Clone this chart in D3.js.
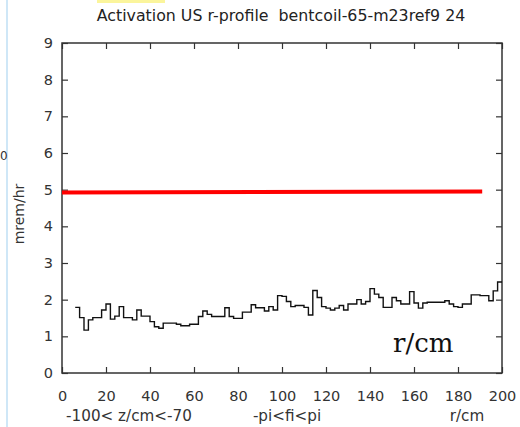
<!DOCTYPE html>
<html>
<head>
<meta charset="utf-8">
<script src="https://cdn.jsdelivr.net/npm/d3@7"></script>
<style>
  html, body { margin: 0; padding: 0; background: #fff; }
  svg { display: block; }
  text { white-space: pre; }
</style>
</head>
<body>
<svg id="chart" width="520" height="427"></svg>
<script>
// ---- data ----
const titleText = "Activation US r-profile  bentcoil-65-m23ref9 24";
const yLabel = "mrem/hr";
const xTicks = [0, 20, 40, 60, 80, 100, 120, 140, 160, 180, 200];
const yTicks = [0, 1, 2, 3, 4, 5, 6, 7, 8, 9];
const binStart = [6, 8, 10, 12, 14, 16, 18, 20, 22, 24, 26, 28, 30, 32, 34, 36, 38, 40, 42, 44, 46, 48,
  50, 52, 54, 56, 58, 60, 62, 64, 66, 68, 70, 72, 74, 76, 78, 80, 82, 84, 86, 88, 90, 92, 94, 96, 98,
  100, 102, 104, 106, 108, 110, 112, 114, 116, 118, 120, 122, 124, 126, 128, 130, 132, 134, 136, 138, 140, 142, 144, 146, 148,
  150, 152, 154, 156, 158, 160, 162, 164, 166, 168, 170, 172, 174, 176, 178, 180, 182, 184, 186, 188, 190, 192, 194, 196, 198];
const binEnd = 200;
const doseValues = [1.79, 1.51, 1.17, 1.45, 1.51, 1.51, 1.72, 1.88, 1.47, 1.55, 1.81, 1.51, 1.51, 1.45, 1.72, 1.55, 1.55, 1.40, 1.26, 1.22, 1.36, 1.36,
  1.36, 1.33, 1.29, 1.29, 1.33, 1.33, 1.54, 1.69, 1.60, 1.54, 1.54, 1.54, 1.78, 1.54, 1.49, 1.49, 1.66, 1.66, 1.86, 1.78, 1.78, 1.69, 1.81, 1.72, 2.11,
  2.09, 1.95, 1.81, 1.84, 1.84, 1.79, 1.58, 2.25, 2.06, 1.81, 1.77, 1.72, 1.77, 1.84, 1.72, 1.88, 1.88, 2.00, 1.88, 1.95, 2.30, 2.15, 2.06, 1.79, 1.79,
  2.06, 1.97, 1.88, 1.88, 2.22, 1.91, 1.77, 1.91, 1.93, 1.93, 1.93, 1.93, 1.97, 1.88, 1.81, 1.79, 1.88, 1.88, 2.13, 2.13, 2.11, 2.11, 1.97, 2.24, 2.48];
const limitX = [0, 191];
const limitY = [4.92, 4.95];
const bottomLabels = ["-100< z/cm<-70", "-pi<fi<pi", "r/cm"];
const insideLabel = "r/cm";

// ---- drawing ----
const svg = d3.select("#chart");
svg.append("rect").attr("width", 520).attr("height", 427).attr("fill", "#fff");

// decorations from the screenshot
svg.append("rect").attr("x", 97).attr("y", 0).attr("width", 68).attr("height", 3).attr("fill", "#fbf59c");
svg.append("line").attr("x1", 7).attr("x2", 7).attr("y1", 0).attr("y2", 427)
  .attr("stroke", "#cfe7f7").attr("stroke-width", 2);
svg.append("text").attr("x", 0).attr("y", 160).attr("text-anchor", "start")
  .attr("font-family", "DejaVu Sans").attr("font-size", 12).attr("fill", "#333").text("0");

const L = 62, R = 502, T = 43, B = 373;
const x = d3.scaleLinear().domain([0, 200]).range([L, R]);
const y = d3.scaleLinear().domain([0, 9]).range([B, T]);

const font = "DejaVu Sans";
const axisColor = "#333";

function styleAxis(g, showText) {
  g.select(".domain").remove();
  g.selectAll(".tick line").attr("stroke", axisColor).attr("stroke-width", 1.2);
  g.selectAll(".tick text").attr("font-family", font).attr("font-size", 14.5).attr("fill", "#333");
  if (!showText) g.selectAll(".tick text").remove();
}

svg.append("g").attr("transform", `translate(${L},0)`)
  .call(d3.axisLeft(y).tickValues(yTicks).tickSize(-6).tickPadding(9).tickFormat(d3.format("d")))
  .call(g => styleAxis(g, true));
svg.append("g").attr("transform", `translate(${R},0)`)
  .call(d3.axisRight(y).tickValues(yTicks).tickSize(-6))
  .call(g => styleAxis(g, false));
svg.append("g").attr("transform", `translate(0,${B})`)
  .call(d3.axisBottom(x).tickValues(xTicks).tickSize(-6).tickPadding(18).tickFormat(d3.format("d")))
  .call(g => styleAxis(g, true));
svg.append("g").attr("transform", `translate(0,${T})`)
  .call(d3.axisTop(x).tickValues(xTicks).tickSize(-6))
  .call(g => styleAxis(g, false));

// frame
svg.append("rect").attr("x", L).attr("y", T).attr("width", R - L).attr("height", B - T)
  .attr("fill", "none").attr("stroke", axisColor).attr("stroke-width", 1.5);

// step histogram
const pts = binStart.map((s, i) => [s, doseValues[i]]);
pts.push([binEnd, doseValues[doseValues.length - 1]]);
svg.append("path").datum(pts)
  .attr("d", d3.line().x(d => x(d[0])).y(d => y(d[1])).curve(d3.curveStepAfter))
  .attr("fill", "none").attr("stroke", "#111").attr("stroke-width", 1.4);

// red limit line
svg.append("path").datum(limitX.map((v, i) => [v, limitY[i]]))
  .attr("d", d3.line().x(d => x(d[0])).y(d => y(d[1])))
  .attr("stroke", "#ff0000").attr("stroke-width", 4).attr("fill", "none");

// title
svg.append("text").attr("x", 281).attr("y", 21).attr("text-anchor", "middle")
  .attr("font-family", font).attr("font-size", 15.8).attr("fill", "#222").text(titleText);

// y label
svg.append("text").attr("transform", "translate(24,214) rotate(-90)").attr("text-anchor", "middle")
  .attr("font-family", font).attr("font-size", 14).attr("fill", "#333").text(yLabel);

// bottom labels
const blX = [129, 287, 467];
bottomLabels.forEach((t, i) => {
  svg.append("text").attr("x", blX[i]).attr("y", 421).attr("text-anchor", "middle")
    .attr("font-family", font).attr("font-size", 15.2).attr("fill", "#333").text(t);
});

// inside serif label
svg.append("text").attr("x", 393).attr("y", 352)
  .attr("font-family", "DejaVu Serif").attr("font-size", 26).attr("fill", "#111").text(insideLabel);
</script>
</body>
</html>
